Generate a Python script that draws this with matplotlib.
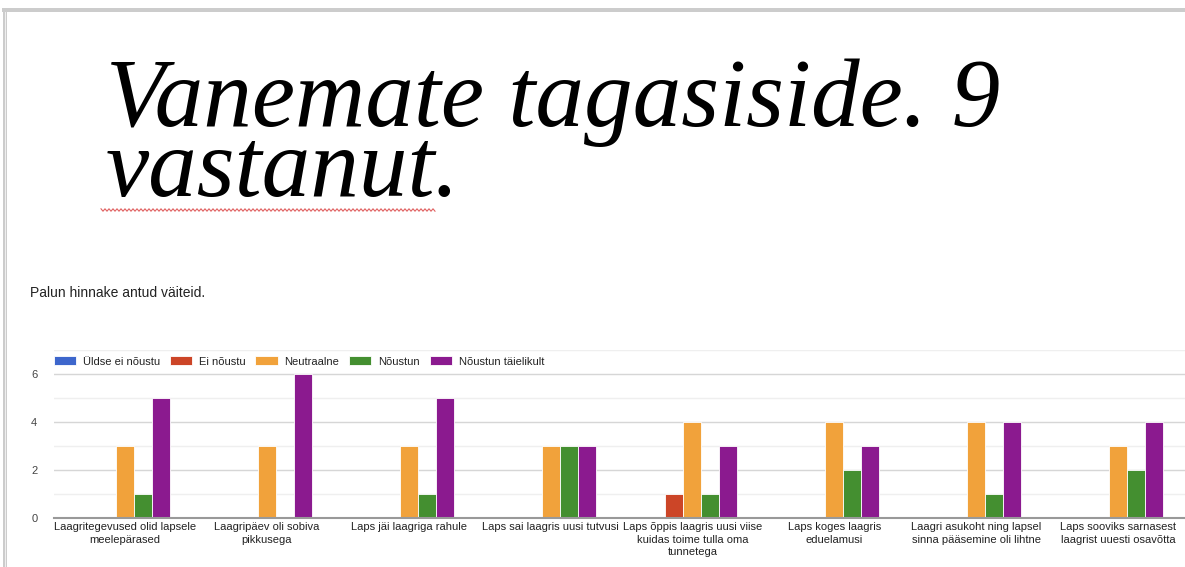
import numpy as np
import matplotlib.pyplot as plt
from matplotlib.patches import Rectangle
from matplotlib.lines import Line2D

categories = [
    "Laagritegevused olid lapsele\nmeelepärased",
    "Laagripäev oli sobiva\npikkusega",
    "Laps jäi laagriga rahule",
    "Laps sai laagris uusi tutvusi",
    "Laps õppis laagris uusi viise\nkuidas toime tulla oma\ntunnetega",
    "Laps koges laagris\neduelamusi",
    "Laagri asukoht ning lapsel\nsinna pääsemine oli lihtne",
    "Laps sooviks sarnasest\nlaagrist uuesti osavõtta",
]
series_names = ["Üldse ei nõustu", "Ei nõustu", "Neutraalne", "Nõustun", "Nõustun täielikult"]
uldse_ei = [0, 0, 0, 0, 0, 0, 0, 0]
ei_noustu = [0, 0, 0, 0, 1, 0, 0, 0]
neutraalne = [3, 3, 3, 3, 4, 4, 4, 3]
noustun = [1, 0, 1, 3, 1, 2, 1, 2]
taielikult = [5, 6, 5, 3, 3, 3, 4, 4]
colors = ["#3d66cc", "#cc4527", "#f1a23b", "#448f30", "#8b1a8f"]

W, H = 1185, 567
fig = plt.figure(figsize=(W / 100, H / 100), dpi=100)
fig.patch.set_facecolor("white")

# screenshot frame
fig.patches.append(Rectangle((2 / W, 1 - 12 / H), 1, 4 / H, transform=fig.transFigure,
                             color="#cccccc", lw=0))
fig.patches.append(Rectangle((3 / W, 0), 4 / W, 1 - 8 / H, transform=fig.transFigure,
                             color="#cccccc", lw=0))
fig.patches.append(Rectangle((4.5 / W, 0), 1 / W, 1 - 12 / H, transform=fig.transFigure,
                             color="#eeeeee", lw=0))

# slide title (one text, two lines); baseline of the last line
fig.text(106 / W, 1 - 196 / H, "Vanemate tagasiside. 9\nvastanut.", family="Liberation Serif",
         style="italic", fontsize=70, color="black", va="baseline", ha="left",
         linespacing=0.73)
# spell-check squiggle
zx = np.arange(101, 436, 2.0)
zy = 210 + np.where(np.arange(len(zx)) % 2 == 0, -1.2, 1.2)
fig.lines.append(Line2D(zx / W, 1 - zy / H, transform=fig.transFigure,
                        color="#e06060", lw=0.8))

fig.text(30 / W, 1 - 293 / H, "Palun hinnake antud väiteid.", family="Liberation Sans",
         fontsize=10, color="#222222", va="center")

ax = fig.add_axes([54 / W, 1 - 518 / H, 1135 / W, 168 / H])
x = np.arange(len(categories))
data = [uldse_ei, ei_noustu, neutraalne, noustun, taielikult]
slot = 0.127
for i, (name, vals, c) in enumerate(zip(series_names, data, colors)):
    ax.bar(x + (i - 2) * slot, vals, width=slot, color=c, edgecolor="white",
           linewidth=0.6, label=name, zorder=3)

ax.set_xlim(-0.5, len(categories) - 0.5)
ax.set_ylim(0, 7)
ax.set_yticks([0, 2, 4, 6])
ax.set_yticks([1, 3, 5, 7], minor=True)
ax.grid(axis="y", which="major", color="#d6d6d6", lw=1, zorder=0)
ax.grid(axis="y", which="minor", color="#efefef", lw=1, zorder=0)
ax.tick_params(axis="y", which="both", length=0, pad=12, labelsize=8, labelcolor="#444444")
ax.set_xticks(x)
ax.set_xticklabels(categories, fontsize=8, color="#222222", linespacing=1.3,
                   family="Liberation Sans")
ax.tick_params(axis="x", length=0, pad=3)
for lab in ax.get_yticklabels():
    lab.set_family("Liberation Sans")
for s in ["top", "right", "left"]:
    ax.spines[s].set_visible(False)
ax.spines["bottom"].set_color("#999999")
ax.spines["bottom"].set_linewidth(1.5)
ax.spines["bottom"].set_zorder(4)

leg = ax.legend(loc="upper left", bbox_to_anchor=(-0.004, 0.99), ncol=5, frameon=True,
                handlelength=2.0, handleheight=0.9, columnspacing=0.9,
                handletextpad=0.6, borderaxespad=0, prop={"family": "Liberation Sans", "size": 8})
leg.get_frame().set_facecolor("white")
leg.get_frame().set_edgecolor("white")
leg.get_frame().set_alpha(1)
for t in leg.get_texts():
    t.set_color("#222222")

fig.savefig("out.png", dpi=100)
